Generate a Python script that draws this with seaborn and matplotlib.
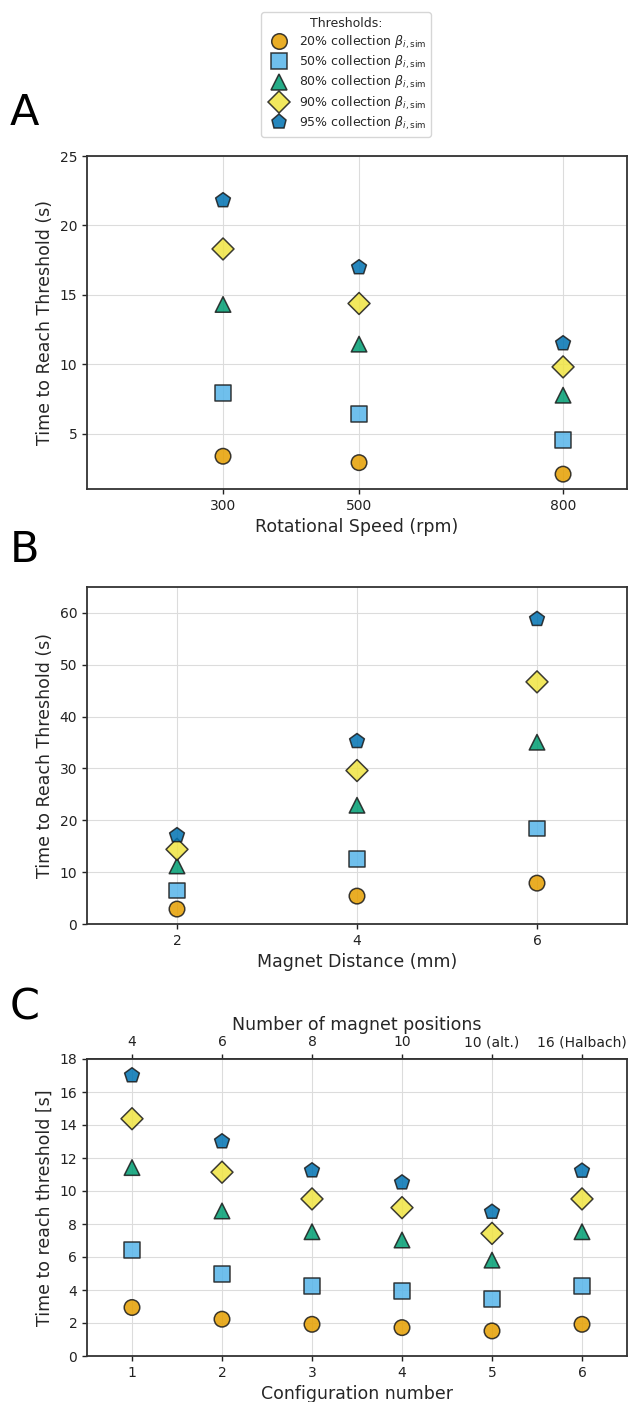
import numpy as np
import pandas as pd
import matplotlib
matplotlib.use("Agg")
import matplotlib.pyplot as plt
import seaborn as sns

# ---------------- data ----------------
thresholds = [r"20% collection $\beta_{i,\mathrm{sim}}$",
              r"50% collection $\beta_{i,\mathrm{sim}}$",
              r"80% collection $\beta_{i,\mathrm{sim}}$",
              r"90% collection $\beta_{i,\mathrm{sim}}$",
              r"95% collection $\beta_{i,\mathrm{sim}}$"]

speed_rpm = [300, 500, 800]
speed_t20 = [3.36, 2.90, 2.07]
speed_t50 = [7.90, 6.39, 4.52]
speed_t80 = [14.3, 11.44, 7.76]
speed_t90 = [18.3, 14.37, 9.80]
speed_t95 = [21.8, 16.97, 11.49]

dist_mm = [2, 4, 6]
dist_t20 = [2.88, 5.38, 7.88]
dist_t50 = [6.46, 12.56, 18.4]
dist_t80 = [11.2, 22.9, 35.06]
dist_t90 = [14.4, 29.6, 46.7]
dist_t95 = [17.1, 35.25, 58.8]

config_num = [1, 2, 3, 4, 5, 6]
config_positions = ["4", "6", "8", "10", "10 (alt.)", "16 (Halbach)"]
config_t20 = [2.94, 2.23, 1.92, 1.72, 1.52, 1.92]
config_t50 = [6.44, 4.96, 4.23, 3.93, 3.44, 4.23]
config_t80 = [11.42, 8.79, 7.53, 7.03, 5.81, 7.53]
config_t90 = [14.38, 11.14, 9.52, 8.99, 7.43, 9.52]
config_t95 = [17.0, 13.0, 11.24, 10.51, 8.73, 11.22]

colors = ["#E69F00", "#56B4E9", "#009E73", "#F0E442", "#0072B2"]
marker_list = ["o", "s", "^", "D", "p"]


def long_df(x, series):
    rows = []
    for name, vals in zip(thresholds, series):
        for xi, v in zip(x, vals):
            rows.append({"x": xi, "t": v, "Threshold": name})
    return pd.DataFrame(rows)


df_speed = long_df(speed_rpm, [speed_t20, speed_t50, speed_t80, speed_t90, speed_t95])
df_dist = long_df(dist_mm, [dist_t20, dist_t50, dist_t80, dist_t90, dist_t95])
df_conf = long_df(config_num, [config_t20, config_t50, config_t80, config_t90, config_t95])

# ---------------- style ----------------
sns.set_theme(style="whitegrid")
plt.rcParams["font.family"] = ["DejaVu Sans"]
plt.rcParams["mathtext.fontset"] = "dejavusans"

palette = dict(zip(thresholds, colors))
markers = dict(zip(thresholds, marker_list))

fig = plt.figure(figsize=(6.31, 14.02), dpi=100)
W, H = 631, 1402


def add_axes_px(left, top, right, bottom):
    return fig.add_axes([left / W, 1 - bottom / H, (right - left) / W, (bottom - top) / H])


axA = add_axes_px(87, 156, 627, 489)
axB = add_axes_px(87, 587, 627, 924)
axC = add_axes_px(87, 1059, 627, 1356)

scatter_kw = dict(x="x", y="t", hue="Threshold", style="Threshold",
                  palette=palette, markers=markers, s=125, alpha=0.85,
                  edgecolor="#1a1a1a", linewidth=1.1, zorder=3)

sns.scatterplot(data=df_speed, ax=axA, **scatter_kw)
sns.scatterplot(data=df_dist, ax=axB, legend=False, **scatter_kw)
sns.scatterplot(data=df_conf, ax=axC, legend=False, **scatter_kw)

tick_fs = 10
label_fs = 12.5

for ax in (axA, axB, axC):
    ax.set_facecolor("white")
    ax.grid(True, color="#dcdcdc", linewidth=0.8)
    ax.set_axisbelow(True)
    for sp in ax.spines.values():
        sp.set_color("#333333")
        sp.set_linewidth(1.3)
    ax.tick_params(axis="both", labelsize=tick_fs, colors="#222222",
                   length=3.5, width=1, direction="out", bottom=True, left=True)

# Panel A
axA.set_xlim(100, 894)
axA.set_ylim(1, 25)
axA.set_xticks(speed_rpm)
axA.set_yticks([5, 10, 15, 20, 25])
axA.set_xlabel("Rotational Speed (rpm)", fontsize=label_fs)
axA.set_ylabel("Time to Reach Threshold (s)", fontsize=label_fs)

# Panel B
axB.set_xlim(1, 7)
axB.set_ylim(0, 65)
axB.set_xticks(dist_mm)
axB.set_yticks([0, 10, 20, 30, 40, 50, 60])
axB.set_xlabel("Magnet Distance (mm)", fontsize=label_fs)
axB.set_ylabel("Time to Reach Threshold (s)", fontsize=label_fs)

# Panel C
axC.set_xlim(0.5, 6.5)
axC.set_ylim(0, 18)
axC.set_xticks(config_num)
axC.set_yticks(list(range(0, 19, 2)))
axC.set_xlabel("Configuration number", fontsize=label_fs)
axC.set_ylabel("Time to reach threshold [s]", fontsize=label_fs)
top = axC.secondary_xaxis("top")
top.set_xticks(config_num)
top.set_xticklabels(config_positions)
top.tick_params(labelsize=tick_fs, colors="#222222", length=3.5, width=1)
top.set_xlabel("Number of magnet positions", fontsize=label_fs)
top.spines["top"].set_color("#333333")
top.spines["top"].set_linewidth(1.3)

# Legend
sns.move_legend(axA, "upper center", bbox_to_anchor=((346 - 87) / 540, (489 - 6) / 333),
                title="Thresholds:", frameon=True, fontsize=9.0, title_fontsize=9.0,
                labelspacing=0.25, handletextpad=0.6, borderpad=0.4)
leg = axA.get_legend()
leg.get_frame().set_edgecolor("#cccccc")
for h in leg.legend_handles:
    try:
        h.set_sizes([115])
    except Exception:
        pass

# Panel letters
for letter, ypx in (("A", 125), ("B", 562), ("C", 1020)):
    fig.text(10 / W, 1 - ypx / H, letter, fontsize=31, ha="left", va="baseline", color="black")

fig.savefig("out.png", dpi=100, facecolor="white")
